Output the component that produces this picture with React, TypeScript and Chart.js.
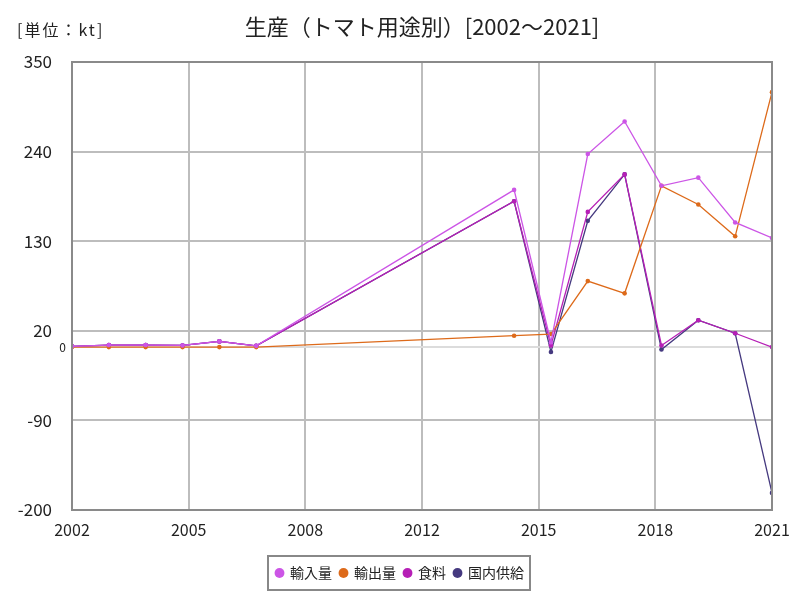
import { useEffect, useRef } from "react";
import { Chart, registerables } from "chart.js";

Chart.register(...registerables);

const years = [2002, 2003, 2004, 2005, 2006, 2007, 2014, 2015, 2016, 2017, 2018, 2019, 2020, 2021];
const importsVals = [1, 2.5, 2.5, 2, 7, 1.5, 193, 6, 237, 277, 198, 208, 153, 134];
const exportsVals = [0, 0, 0, 0, 0, 0, 14, 16, 81, 66, 198, 175, 136, 313];
const foodVals = [1, 2.5, 2.5, 2, 7, 1.5, 179, 2, 166, 212, 2, 33, 17, 0];
const domesticVals = [1, 2.5, 2.5, 2, 7, 1.5, 179, -6, 155, 212, -3, 33, 17, -179];
const seriesNames = ["輸入量", "輸出量", "食料", "国内供給"];
const seriesColors = ["#cc55e6", "#dd6a1a", "#b61fb6", "#45397f"];
const yTicks = [-200, -90, 0, 20, 130, 240, 350];
const xTickCount = 6;
const titleText = "生産（トマト用途別）[2002～2021]";
const unitText = "[単位：kt]";

const FONT = "'Noto Sans CJK JP', 'Noto Sans', sans-serif";

export default function App() {
  const ref = useRef<HTMLCanvasElement | null>(null);

  useEffect(() => {
    document.body.style.margin = "0";
    const canvas = ref.current;
    if (!canvas) return;

    const allSeries = [importsVals, exportsVals, foodVals, domesticVals];

    const decor = {
      id: "decor",
      afterDraw(chart: any) {
        const { ctx, chartArea } = chart;
        ctx.save();
        // border
        ctx.strokeStyle = "#8a8a8a";
        ctx.lineWidth = 2;
        ctx.strokeRect(chartArea.left, chartArea.top, chartArea.right - chartArea.left, chartArea.bottom - chartArea.top);
        // unit label
        ctx.fillStyle = "#222";
        ctx.font = `16px ${FONT}`;
        ctx.textAlign = "left";
        ctx.textBaseline = "middle";
        (ctx as any).letterSpacing = "2px";
        ctx.fillText(unitText, 17, 30);
        (ctx as any).letterSpacing = "0px";
        // title
        ctx.font = `22px ${FONT}`;
        ctx.textAlign = "center";
        ctx.fillText(titleText, (chartArea.left + chartArea.right) / 2, 27);
        // zero label
        const y0 = chart.scales.y.getPixelForValue(0);
        ctx.font = `12px ${FONT}`;
        ctx.textAlign = "right";
        ctx.fillText("0", 66, y0);
        // legend border
        const lg = chart.legend;
        if (lg && lg.legendHitBoxes && lg.legendHitBoxes.length) {
          const hb = lg.legendHitBoxes;
          const l = hb[0].left - 8;
          const r = hb[hb.length - 1].left + hb[hb.length - 1].width + 6;
          const cy = hb[0].top + hb[0].height / 2;
          ctx.strokeStyle = "#888";
          ctx.lineWidth = 2;
          ctx.strokeRect(l, cy - 17, r - l, 34);
        }
        ctx.restore();
      },
    };

    const chart = new Chart(canvas, {
      type: "line",
      data: {
        datasets: seriesNames.map((name, i) => ({
          label: name,
          data: years.map((yr, j) => ({ x: yr, y: allSeries[i][j] })),
          borderColor: seriesColors[i],
          backgroundColor: seriesColors[i],
          borderWidth: 1.3,
          pointRadius: 2.3,
          pointHoverRadius: 2.3,
          pointBorderWidth: 0,
          tension: 0,
          fill: false,
        })),
      },
      options: {
        animation: false,
        responsive: false,
        layout: { padding: { top: 62, right: 0, bottom: 10, left: 0 } },
        plugins: {
          title: { display: false },
          tooltip: { enabled: false },
          legend: {
            position: "bottom",
            labels: {
              usePointStyle: true,
              pointStyle: "circle",
              boxWidth: 7,
              boxHeight: 7,
              padding: 8,
              color: "#222",
              font: { family: FONT, size: 14 },
            },
          },
        },
        scales: {
          x: {
            type: "linear",
            min: 2002,
            max: 2021,
            afterBuildTicks: (axis: any) => {
              const t = [];
              for (let i = 0; i <= xTickCount; i++) t.push({ value: 2002 + (i * 19) / xTickCount });
              axis.ticks = t;
            },
            afterFit: (axis: any) => {
              axis.height = 48;
            },
            grid: { color: "#bdbdbd", lineWidth: 2, drawTicks: false },
            border: { display: false },
            ticks: {
              autoSkip: false,
              maxRotation: 0,
              padding: 10,
              color: "#222",
              font: { family: FONT, size: 16 },
              callback: (v: any) => String(Math.round(Number(v))),
            },
          },
          y: {
            type: "linear",
            min: -200,
            max: 350,
            afterBuildTicks: (axis: any) => {
              axis.ticks = yTicks.map((v) => ({ value: v }));
            },
            afterFit: (axis: any) => {
              axis.width = 72;
            },
            grid: {
              color: (c: any) => (c.tick && c.tick.value === 0 ? "#dcdcdc" : "#bdbdbd"),
              lineWidth: 2,
              drawTicks: false,
            },
            border: { display: false },
            ticks: {
              padding: 20,
              color: "#222",
              font: { family: FONT, size: 17 },
              callback: (v: any) => (Number(v) === 0 ? "" : String(v)),
            },
          },
          yPad: {
            type: "linear",
            position: "right",
            display: true,
            grid: { display: false, drawTicks: false },
            border: { display: false },
            ticks: { display: false },
            afterFit: (axis: any) => {
              axis.width = 28;
            },
          },
        },
      },
      plugins: [decor],
    });

    return () => chart.destroy();
  }, []);

  return (
    <div style={{ width: 800, height: 600 }}>
      <canvas ref={ref} width={800} height={600} style={{ display: "block" }} />
    </div>
  );
}
